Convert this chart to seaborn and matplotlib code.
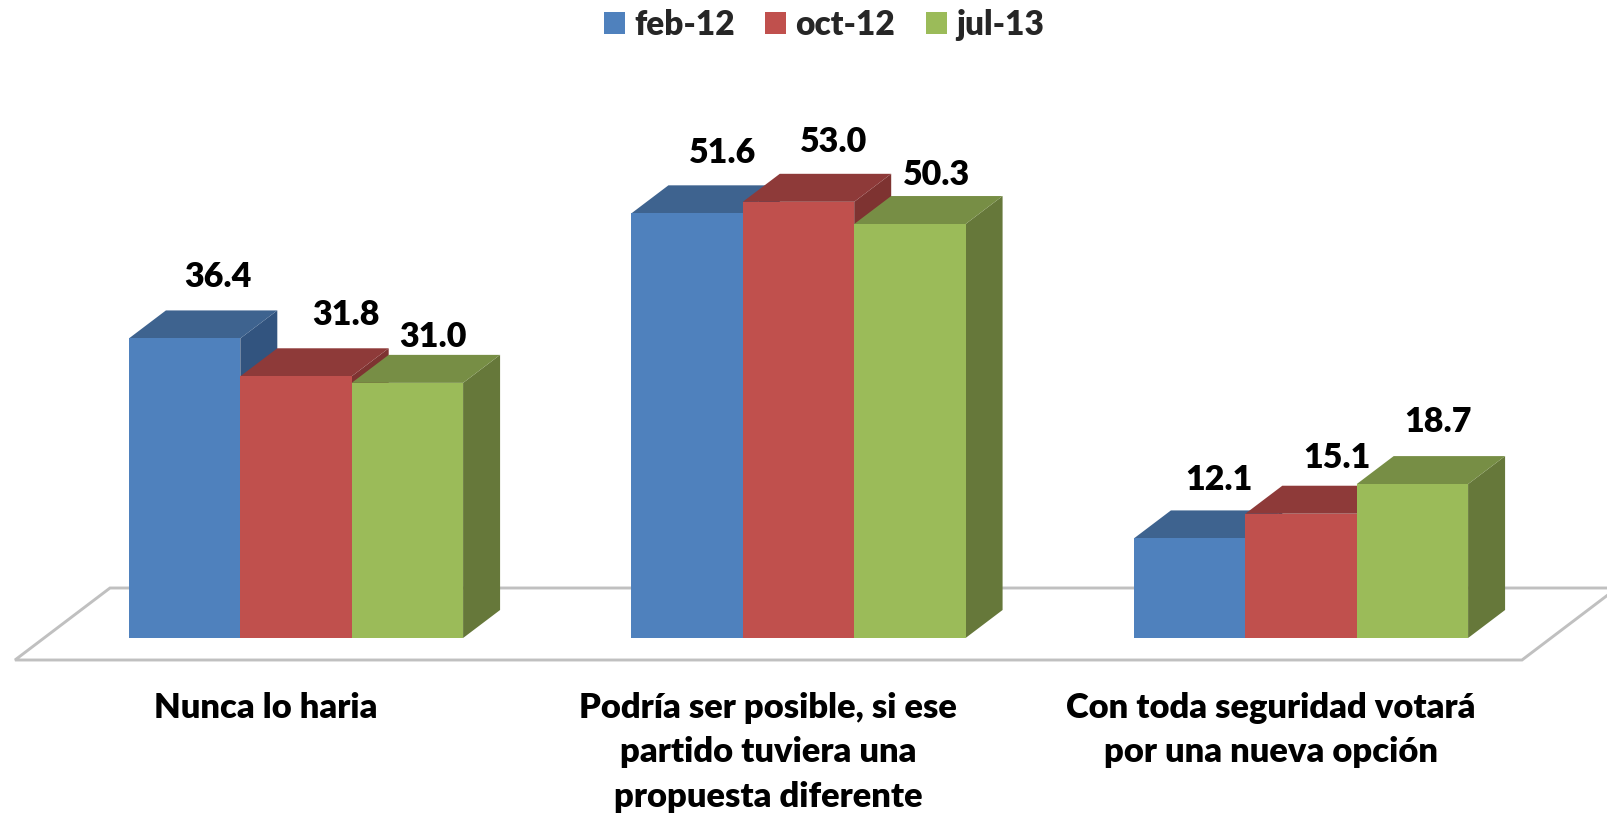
import pandas as pd
import numpy as np
import seaborn as sns
import matplotlib.pyplot as plt

categories = ['Nunca lo haria',
              'Podría ser posible, si ese\npartido tuviera una\npropuesta diferente',
              'Con toda seguridad votará\npor una nueva opción']
periods = ['feb-12', 'oct-12', 'jul-13']
feb_12 = [36.4, 51.6, 12.1]
oct_12 = [31.8, 53.0, 15.1]
jul_13 = [31.0, 50.3, 18.7]

front_colors = ['#4F81BD', '#C0504D', '#9BBB59']
top_colors = ['#3E638F', '#8E3A39', '#778E45']
side_colors = ['#32547F', '#7E3331', '#66783A']

# label offsets from the bar top centre, pixels (one row per period)
label_dx = [[33, 35, 29], [50, 35, 36], [26, 27, 26]]
label_dy = [[61, 60, 58], [61, 60, 56], [46, 49, 62]]

df = pd.DataFrame({
    'cat': categories * 3,
    'period': np.repeat(periods, 3),
    'value': feb_12 + oct_12 + jul_13,
})

W, H = 1608, 817
base_px = 638      # baseline from the top
x0_px = 296        # centre of first group
x_unit = 502.5     # pixels per category
y_unit = 8.23      # pixels per percent
depth_x = 37 / x_unit
depth_y = 28 / y_unit

sns.set_theme(style='white')
plt.rcParams['font.family'] = ['Lato', 'DejaVu Sans']
plt.rcParams['font.weight'] = 'bold'

fig = plt.figure(figsize=(W / 100, H / 100), dpi=100)
ax = fig.add_axes([0, (H - base_px) / H, 1, base_px / H])

sns.barplot(data=df, x='cat', y='value', hue='period', hue_order=periods,
            palette=front_colors, saturation=1, width=0.665, gap=0,
            linewidth=0, ax=ax)

ax.set_xlim(-x0_px / x_unit, (W - x0_px) / x_unit)
ax.set_ylim(0, base_px / y_unit)

# floor of the 3D chart
def px(x, y):
    return (x - x0_px) / x_unit, (base_px - y) / y_unit

floor = [px(15, 660), px(1522, 660), px(1617, 588), px(110, 588)]
ax.add_patch(plt.Polygon(floor, closed=True, facecolor='white', edgecolor='#C0C0C0',
                         linewidth=2.1, zorder=1, clip_on=False))

# fake the 3D look from each bar's own rectangle
series = [feb_12, oct_12, jul_13]
bars = [p for p in ax.patches if isinstance(p, plt.Rectangle)]
n = len(categories)
for i, name in enumerate(periods):
    for j in range(n):
        bar = bars[i * n + j]
        x, w, h = bar.get_x(), bar.get_width(), bar.get_height()
        z = 3 + i * 3
        bar.set_zorder(z + 2)
        ax.add_patch(plt.Polygon([(x + w, 0), (x + w + depth_x, depth_y),
                                  (x + w + depth_x, h + depth_y), (x + w, h)],
                                 facecolor=side_colors[i], edgecolor='none', zorder=z))
        ax.add_patch(plt.Polygon([(x, h), (x + depth_x, h + depth_y),
                                  (x + w + depth_x, h + depth_y), (x + w, h)],
                                 facecolor=top_colors[i], edgecolor='none', zorder=z + 1))
        ax.annotate(f'{series[i][j]:.1f}', (x + w / 2, h),
                    xytext=(label_dx[i][j] * 0.72, label_dy[i][j] * 0.72),
                    textcoords='offset points', ha='center', va='center',
                    fontsize=24.5, fontweight='heavy', color='black', zorder=20)

ax.set_xticks(np.arange(n) - 0.06)
ax.set_xticklabels(categories, fontsize=24.8, fontweight='heavy', color='black', linespacing=1.47)
ax.tick_params(axis='x', length=0, pad=39)
ax.set_xlabel('')
ax.set_ylabel('')
ax.set_yticks([])
sns.despine(ax=ax, left=True, bottom=True)
ax.patch.set_alpha(0)

handles, labels = ax.get_legend_handles_labels()
ax.legend(handles, labels, ncol=3, frameon=False, loc='center',
          bbox_to_anchor=(824 / W, 1 - 25 / H), bbox_transform=fig.transFigure,
          prop={'size': 24, 'weight': 'heavy'}, handlelength=0.63, handleheight=0.63,
          handletextpad=0.27, columnspacing=0.92, borderpad=0, borderaxespad=0)

fig.savefig('out.png', dpi=100)
